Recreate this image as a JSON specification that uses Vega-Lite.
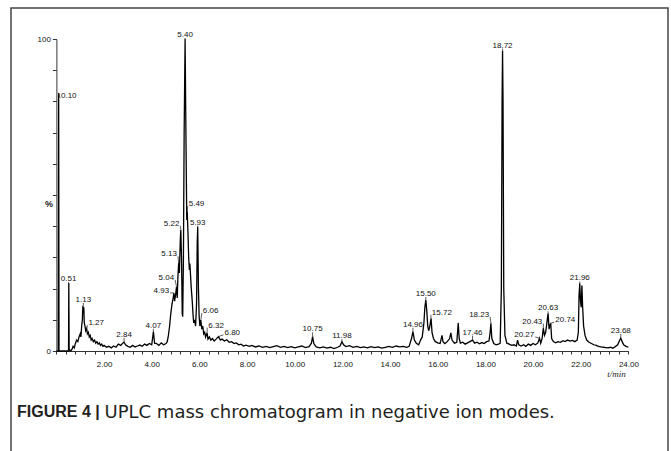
{
  "$schema": "https://vega.github.io/schema/vega-lite/v6.json",
  "width": 657,
  "height": 444,
  "autosize": {"type": "none"},
  "padding": {"left": 11, "top": 8, "right": 3, "bottom": -1},
  "background": "white",
  "config": {"view": {"stroke": "#444", "strokeWidth": 1.5}, "font": "Liberation Sans"},
  "title": {"text": "FIGURE 4 |", "orient": "bottom", "anchor": "start", "frame": "group", "offset": 0, "dx": 6, "dy": -35, "baseline": "alphabetic", "font": "Liberation Sans", "fontSize": 16, "fontWeight": "bold", "color": "#231f20"},
  "datasets": {
    "trace": [
      {"t":0,"v":0},{"t":0.08,"v":0},{"t":0.095,"v":82.7},{"t":0.11,"v":0},{"t":0.51,"v":0},{"t":0.52,"v":21.8},{"t":0.535,"v":0.5},{"t":0.6,"v":0},{"t":0.65,"v":0.5},{"t":0.7,"v":1.5},{"t":0.75,"v":1},{"t":0.8,"v":2.5},{"t":0.85,"v":3.5},{"t":0.9,"v":3},{"t":0.95,"v":4.5},{"t":1.0,"v":5.5},{"t":1.03,"v":4.5},{"t":1.06,"v":8},{"t":1.09,"v":10},{"t":1.11,"v":14.5},{"t":1.13,"v":12},{"t":1.15,"v":14},{"t":1.17,"v":9},{"t":1.2,"v":8},{"t":1.23,"v":6.5},{"t":1.27,"v":7.2},{"t":1.3,"v":5.5},{"t":1.34,"v":6},{"t":1.38,"v":4.5},{"t":1.42,"v":5},{"t":1.46,"v":3.5},{"t":1.5,"v":4},{"t":1.55,"v":3},{"t":1.6,"v":3.5},{"t":1.65,"v":2.5},{"t":1.7,"v":3},{"t":1.75,"v":2.2},{"t":1.8,"v":2.6},{"t":1.85,"v":1.8},{"t":1.9,"v":2.2},{"t":1.95,"v":1.5},{"t":2.0,"v":1.8},{"t":2.1,"v":1.2},{"t":2.2,"v":1.5},{"t":2.3,"v":1.0},{"t":2.4,"v":1.6},{"t":2.5,"v":1.2},{"t":2.6,"v":2.2},{"t":2.7,"v":1.8},{"t":2.78,"v":2.5},{"t":2.84,"v":2.8},{"t":2.9,"v":2.0},{"t":3.0,"v":1.5},{"t":3.1,"v":1.2},{"t":3.2,"v":1.8},{"t":3.3,"v":1.3},{"t":3.4,"v":1.6},{"t":3.5,"v":1.9},{"t":3.6,"v":1.5},{"t":3.7,"v":2.2},{"t":3.8,"v":1.8},{"t":3.9,"v":2.4},{"t":4.0,"v":2.0},{"t":4.07,"v":6.2},{"t":4.12,"v":2.5},{"t":4.2,"v":2.4},{"t":4.3,"v":1.8},{"t":4.4,"v":2.6},{"t":4.5,"v":2.0},{"t":4.6,"v":2.4},{"t":4.65,"v":3},{"t":4.7,"v":5},{"t":4.75,"v":8},{"t":4.8,"v":12},{"t":4.85,"v":15},{"t":4.9,"v":17},{"t":4.93,"v":18.6},{"t":4.96,"v":16},{"t":5.0,"v":18},{"t":5.04,"v":20.6},{"t":5.07,"v":17},{"t":5.1,"v":24},{"t":5.13,"v":28.2},{"t":5.16,"v":25},{"t":5.2,"v":36},{"t":5.22,"v":38.8},{"t":5.25,"v":30},{"t":5.28,"v":12},{"t":5.3,"v":11},{"t":5.33,"v":30},{"t":5.36,"v":70},{"t":5.4,"v":100},{"t":5.44,"v":65},{"t":5.47,"v":42},{"t":5.49,"v":44.7},{"t":5.52,"v":38},{"t":5.55,"v":30},{"t":5.58,"v":26},{"t":5.6,"v":28},{"t":5.63,"v":24},{"t":5.66,"v":20},{"t":5.7,"v":16},{"t":5.73,"v":12},{"t":5.76,"v":9},{"t":5.8,"v":10},{"t":5.84,"v":8},{"t":5.88,"v":15},{"t":5.91,"v":35},{"t":5.93,"v":39.8},{"t":5.96,"v":20},{"t":5.99,"v":11},{"t":6.02,"v":8},{"t":6.06,"v":9.9},{"t":6.1,"v":7},{"t":6.14,"v":8},{"t":6.18,"v":5.5},{"t":6.22,"v":6},{"t":6.26,"v":4.5},{"t":6.32,"v":5.8},{"t":6.36,"v":3.8},{"t":6.42,"v":4.5},{"t":6.48,"v":3.5},{"t":6.55,"v":4},{"t":6.62,"v":3.2},{"t":6.7,"v":3.8},{"t":6.8,"v":4.6},{"t":6.88,"v":3.5},{"t":6.95,"v":3.8},{"t":7.05,"v":3.2},{"t":7.15,"v":3.6},{"t":7.25,"v":2.8},{"t":7.35,"v":3.0},{"t":7.45,"v":2.4},{"t":7.55,"v":2.6},{"t":7.65,"v":2.0},{"t":7.75,"v":2.2},{"t":7.85,"v":1.6},{"t":7.95,"v":1.9},{"t":8.1,"v":1.5},{"t":8.2,"v":1.8},{"t":8.35,"v":1.3},{"t":8.5,"v":1.6},{"t":8.65,"v":1.2},{"t":8.8,"v":1.5},{"t":8.95,"v":1.1},{"t":9.1,"v":1.4},{"t":9.25,"v":1.7},{"t":9.4,"v":1.2},{"t":9.55,"v":1.5},{"t":9.7,"v":1.1},{"t":9.85,"v":1.4},{"t":10.0,"v":1.0},{"t":10.15,"v":1.3},{"t":10.3,"v":1.6},{"t":10.45,"v":1.1},{"t":10.6,"v":1.4},{"t":10.7,"v":2.5},{"t":10.75,"v":4.6},{"t":10.8,"v":2.4},{"t":10.9,"v":1.3},{"t":11.05,"v":1.0},{"t":11.2,"v":1.3},{"t":11.35,"v":0.9},{"t":11.5,"v":1.2},{"t":11.65,"v":0.8},{"t":11.8,"v":1.2},{"t":11.9,"v":1.6},{"t":11.98,"v":3.0},{"t":12.05,"v":2.0},{"t":12.15,"v":1.4},{"t":12.3,"v":1.7},{"t":12.45,"v":1.2},{"t":12.6,"v":1.5},{"t":12.75,"v":1.1},{"t":12.9,"v":1.3},{"t":13.05,"v":1.0},{"t":13.2,"v":1.4},{"t":13.35,"v":1.1},{"t":13.5,"v":1.3},{"t":13.65,"v":0.9},{"t":13.8,"v":1.2},{"t":13.95,"v":1.5},{"t":14.1,"v":1.2},{"t":14.25,"v":1.6},{"t":14.4,"v":1.3},{"t":14.55,"v":1.5},{"t":14.7,"v":1.2},{"t":14.8,"v":1.5},{"t":14.9,"v":4},{"t":14.96,"v":6.2},{"t":15.02,"v":3.5},{"t":15.1,"v":2.5},{"t":15.2,"v":2.0},{"t":15.28,"v":3.5},{"t":15.35,"v":4.5},{"t":15.42,"v":9},{"t":15.46,"v":14},{"t":15.5,"v":16.3},{"t":15.54,"v":13},{"t":15.58,"v":8},{"t":15.62,"v":6.5},{"t":15.67,"v":8},{"t":15.72,"v":10.5},{"t":15.76,"v":6},{"t":15.82,"v":4},{"t":15.9,"v":3},{"t":16.0,"v":2.6},{"t":16.1,"v":2.4},{"t":16.18,"v":5},{"t":16.22,"v":3},{"t":16.3,"v":2.4},{"t":16.4,"v":3},{"t":16.5,"v":4},{"t":16.55,"v":5.8},{"t":16.6,"v":3.5},{"t":16.7,"v":2.5},{"t":16.8,"v":2.8},{"t":16.86,"v":9},{"t":16.9,"v":4},{"t":16.95,"v":2.5},{"t":17.05,"v":2.8},{"t":17.15,"v":2.2},{"t":17.25,"v":2.6},{"t":17.35,"v":3.0},{"t":17.46,"v":3.5},{"t":17.55,"v":2.5},{"t":17.65,"v":2.8},{"t":17.75,"v":2.3},{"t":17.85,"v":2.7},{"t":17.95,"v":2.4},{"t":18.05,"v":3.0},{"t":18.15,"v":3.2},{"t":18.2,"v":6},{"t":18.23,"v":8.9},{"t":18.27,"v":4},{"t":18.35,"v":2.4},{"t":18.45,"v":2.0},{"t":18.55,"v":2.2},{"t":18.62,"v":2.5},{"t":18.67,"v":20},{"t":18.7,"v":80},{"t":18.72,"v":96.2},{"t":18.74,"v":80},{"t":18.77,"v":20},{"t":18.82,"v":5},{"t":18.9,"v":2.5},{"t":19.0,"v":2.2},{"t":19.1,"v":1.8},{"t":19.2,"v":2.0},{"t":19.3,"v":1.6},{"t":19.35,"v":3.5},{"t":19.4,"v":2.0},{"t":19.5,"v":1.6},{"t":19.6,"v":2.0},{"t":19.7,"v":1.5},{"t":19.8,"v":2.2},{"t":19.9,"v":1.8},{"t":20.0,"v":2.4},{"t":20.1,"v":2.0},{"t":20.2,"v":2.6},{"t":20.27,"v":4.1},{"t":20.32,"v":2.5},{"t":20.38,"v":4},{"t":20.43,"v":7.3},{"t":20.48,"v":5},{"t":20.53,"v":6},{"t":20.58,"v":9},{"t":20.63,"v":12.1},{"t":20.67,"v":7},{"t":20.7,"v":8},{"t":20.74,"v":8.9},{"t":20.78,"v":4},{"t":20.85,"v":3},{"t":20.95,"v":2.6},{"t":21.05,"v":3.0},{"t":21.15,"v":2.8},{"t":21.25,"v":3.3},{"t":21.35,"v":3.0},{"t":21.45,"v":3.5},{"t":21.55,"v":3.2},{"t":21.65,"v":3.4},{"t":21.75,"v":3.0},{"t":21.85,"v":3.5},{"t":21.9,"v":6},{"t":21.93,"v":18},{"t":21.96,"v":21.7},{"t":21.99,"v":16},{"t":22.02,"v":14},{"t":22.05,"v":21},{"t":22.08,"v":14},{"t":22.12,"v":8},{"t":22.18,"v":5},{"t":22.25,"v":3.5},{"t":22.35,"v":2.8},{"t":22.45,"v":2.4},{"t":22.55,"v":2.0},{"t":22.65,"v":1.8},{"t":22.75,"v":1.5},{"t":22.85,"v":1.3},{"t":22.95,"v":1.2},{"t":23.05,"v":1.1},{"t":23.15,"v":1.0},{"t":23.25,"v":1.2},{"t":23.35,"v":0.9},{"t":23.45,"v":1.4},{"t":23.55,"v":2.0},{"t":23.62,"v":3.2},{"t":23.68,"v":4.1},{"t":23.74,"v":3.0},{"t":23.8,"v":2.0},{"t":23.9,"v":1.5},{"t":24.0,"v":1.2}
    ],
    "labels": [
      {"rt":0.10,"pk":82.7,"lt":0.15,"lv":81.1,"side":"r"},
      {"rt":0.51,"pk":21.8,"lt":0.51,"lv":22.1,"side":"c"},
      {"rt":1.13,"pk":14.5,"lt":1.13,"lv":15.4,"side":"c"},
      {"rt":1.27,"pk":7.2,"lt":1.30,"lv":8.3,"side":"r"},
      {"rt":2.84,"pk":2.8,"lt":2.84,"lv":4.2,"side":"c"},
      {"rt":4.07,"pk":6.2,"lt":4.07,"lv":7.1,"side":"c"},
      {"rt":4.93,"pk":18.6,"lt":4.77,"lv":18.6,"side":"l"},
      {"rt":5.04,"pk":20.6,"lt":4.98,"lv":22.8,"side":"l"},
      {"rt":5.13,"pk":28.2,"lt":5.10,"lv":30.4,"side":"l"},
      {"rt":5.22,"pk":38.8,"lt":5.20,"lv":40.1,"side":"l"},
      {"rt":5.40,"pk":100,"lt":5.40,"lv":100.3,"side":"c"},
      {"rt":5.49,"pk":44.7,"lt":5.51,"lv":46.5,"side":"r"},
      {"rt":5.93,"pk":39.8,"lt":5.93,"lv":40.2,"side":"c"},
      {"rt":6.06,"pk":9.9,"lt":6.10,"lv":12.2,"side":"r"},
      {"rt":6.32,"pk":5.8,"lt":6.33,"lv":7.5,"side":"r"},
      {"rt":6.80,"pk":4.6,"lt":7.01,"lv":5.2,"side":"r"},
      {"rt":10.75,"pk":4.6,"lt":10.75,"lv":6.0,"side":"c"},
      {"rt":11.98,"pk":3.0,"lt":11.98,"lv":3.8,"side":"c"},
      {"rt":14.96,"pk":6.2,"lt":14.96,"lv":7.4,"side":"c"},
      {"rt":15.50,"pk":16.3,"lt":15.50,"lv":17.3,"side":"c"},
      {"rt":15.72,"pk":10.5,"lt":15.71,"lv":11.6,"side":"r"},
      {"rt":17.46,"pk":3.5,"lt":17.46,"lv":4.9,"side":"c"},
      {"rt":18.23,"pk":8.9,"lt":18.20,"lv":10.9,"side":"l"},
      {"rt":18.72,"pk":96.2,"lt":18.72,"lv":96.9,"side":"c"},
      {"rt":20.27,"pk":4.1,"lt":20.09,"lv":4.5,"side":"l"},
      {"rt":20.43,"pk":7.3,"lt":20.43,"lv":8.75,"side":"l"},
      {"rt":20.63,"pk":12.1,"lt":20.63,"lv":12.7,"side":"c"},
      {"rt":20.74,"pk":8.9,"lt":20.89,"lv":9.2,"side":"r"},
      {"rt":21.96,"pk":21.7,"lt":21.96,"lv":22.3,"side":"c"},
      {"rt":23.68,"pk":4.1,"lt":23.68,"lv":5.5,"side":"c"}
    ]
  },
  "resolve": {"axis": {"x": "independent"}},
  "layer": [
    {
      "data": {"name": "trace"},
      "mark": {"type": "line", "color": "#000", "strokeWidth": 1.3, "interpolate": "linear"},
      "encoding": {
        "x": {"field": "t", "type": "quantitative",
          "scale": {"domain": [0, 24], "range": [45.4, 617.4], "nice": false, "zero": false},
          "axis": {"orient": "bottom", "offset": -101, "grid": false,
            "values": [0,0.4,0.8,1.2,1.6,2,2.4,2.8,3.2,3.6,4,4.4,4.8,5.2,5.6,6,6.4,6.8,7.2,7.6,8,8.4,8.8,9.2,9.6,10,10.4,10.8,11.2,11.6,12,12.4,12.8,13.2,13.6,14,14.4,14.8,15.2,15.6,16,16.4,16.8,17.2,17.6,18,18.4,18.8,19.2,19.6,20,20.4,20.8,21.2,21.6,22,22.4,22.8,23.2,23.6,24],
            "labelExpr": "datum.value > 0 && abs(datum.value/2 - round(datum.value/2)) < 0.001 ? format(datum.value, '.2f') : ''",
            "tickSize": 3, "tickColor": "#333", "domainColor": "#333", "labelColor": "#111",
            "labelFont": "Liberation Sans", "labelFontSize": 8, "labelPadding": 6, "labelFlush": false, "labelOverlap": false,
            "title": "t/min", "titleFont": "Liberation Serif", "titleFontStyle": "italic", "titleFontWeight": "normal", "titleFontSize": 9, "titleColor": "#222",
            "titleX": 605, "titleY": 22, "titleAlign": "center", "titleBaseline": "middle"}},
        "y": {"field": "v", "type": "quantitative",
          "scale": {"domain": [0, 100], "range": [343, 31], "nice": false},
          "axis": {"orient": "left", "offset": -45.4, "grid": false,
            "values": [0,10,20,30,40,50,60,70,80,90,100],
            "labelExpr": "datum.value == 0 || datum.value == 100 ? datum.label : ''",
            "tickSize": 4, "tickColor": "#333", "domainColor": "#333", "labelColor": "#111",
            "labelFont": "Liberation Sans", "labelFontSize": 8, "labelPadding": 2,
            "title": "%", "titleAngle": 0, "titleX": -8, "titleY": 195, "titleAlign": "center", "titleBaseline": "middle",
            "titleFont": "Liberation Sans", "titleFontSize": 9, "titleFontWeight": "bold", "titleColor": "#222"}}
      }
    },
    {
      "data": {"name": "labels"},
      "mark": {"type": "rule", "color": "#333", "strokeWidth": 0.8},
      "encoding": {
        "x": {"field": "lt", "type": "quantitative", "axis": null},
        "y": {"field": "lv", "type": "quantitative"},
        "x2": {"field": "rt"},
        "y2": {"field": "pk"}
      }
    },
    {
      "data": {"name": "labels"},
      "transform": [{"filter": "datum.side == 'c'"}],
      "mark": {"type": "text", "align": "center", "baseline": "alphabetic", "dy": -1, "font": "Liberation Sans", "fontSize": 8, "color": "#111"},
      "encoding": {
        "x": {"field": "lt", "type": "quantitative",
          "axis": {"orient": "bottom", "offset": -101, "domain": false, "ticks": false, "labels": false, "grid": false,
            "title": "UPLC mass chromatogram in negative ion modes.", "titleFont": "DejaVu Sans", "titleFontSize": 18, "titleFontWeight": "normal", "titleColor": "#231f20",
            "titleX": 93, "titleY": 66, "titleAlign": "left", "titleBaseline": "alphabetic"}},
        "y": {"field": "lv", "type": "quantitative"},
        "text": {"field": "rt", "type": "quantitative", "format": ".2f"}
      }
    },
    {
      "data": {"name": "labels"},
      "transform": [{"filter": "datum.side == 'l'"}],
      "mark": {"type": "text", "align": "right", "baseline": "alphabetic", "dx": -1, "font": "Liberation Sans", "fontSize": 8, "color": "#111"},
      "encoding": {
        "x": {"field": "lt", "type": "quantitative", "axis": null},
        "y": {"field": "lv", "type": "quantitative"},
        "text": {"field": "rt", "type": "quantitative", "format": ".2f"}
      }
    },
    {
      "data": {"name": "labels"},
      "transform": [{"filter": "datum.side == 'r'"}],
      "mark": {"type": "text", "align": "left", "baseline": "alphabetic", "dx": 1, "font": "Liberation Sans", "fontSize": 8, "color": "#111"},
      "encoding": {
        "x": {"field": "lt", "type": "quantitative", "axis": null},
        "y": {"field": "lv", "type": "quantitative"},
        "text": {"field": "rt", "type": "quantitative", "format": ".2f"}
      }
    }
  ]
}
